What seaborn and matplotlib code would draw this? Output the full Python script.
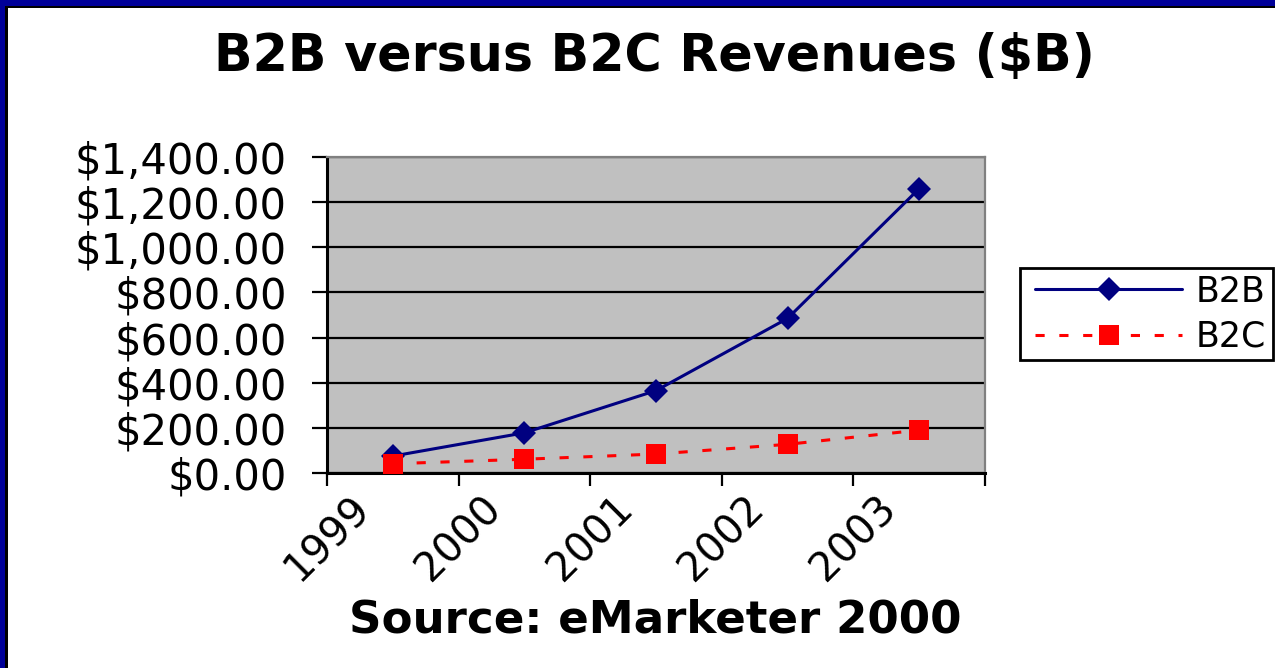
import matplotlib
matplotlib.use('Agg')
import matplotlib.pyplot as plt
from matplotlib.patches import Rectangle
from matplotlib.lines import Line2D
from matplotlib.legend_handler import HandlerLine2D
from matplotlib.ticker import FuncFormatter, FixedLocator
from matplotlib.transforms import ScaledTranslation
import numpy as np
import pandas as pd
import seaborn as sns

# data (billions of dollars)
years = ['1999', '2000', '2001', '2002', '2003']
b2b = [75, 178, 365, 685, 1260]
b2c = [41, 61, 84, 127, 190]
y_ticks = [0, 200, 400, 600, 800, 1000, 1200, 1400]

df = pd.DataFrame({
    'pos': list(range(len(years))) * 2,
    'revenue': b2b + b2c,
    'segment': ['B2B'] * len(years) + ['B2C'] * len(years),
})

sns.set_style('white')
plt.rcParams['font.family'] = ['DejaVu Sans']
plt.rcParams['text.color'] = 'black'
plt.rcParams['xtick.color'] = 'black'
plt.rcParams['ytick.color'] = 'black'

fig = plt.figure(figsize=(12.75, 6.68), dpi=100)
fig.patch.set_facecolor('white')

# slide frame (navy band with black inner edge on top and left)
W, H = 1275.0, 668.0
fig.patches.append(Rectangle((0, 1 - 6 / H), 1, 6 / H, transform=fig.transFigure,
                             facecolor='#000099', edgecolor='none', zorder=0))
fig.patches.append(Rectangle((5 / W, 1 - 8 / H), 1, 2 / H, transform=fig.transFigure,
                             facecolor='black', edgecolor='none', zorder=0))
fig.patches.append(Rectangle((0, 0), 5 / W, 1, transform=fig.transFigure,
                             facecolor='#000099', edgecolor='none', zorder=0))
fig.patches.append(Rectangle((5 / W, 0), 3 / W, 1 - 6 / H, transform=fig.transFigure,
                             facecolor='black', edgecolor='none', zorder=0))

ax = fig.add_axes([327 / W, 1 - 473 / H, 658 / W, 316 / H])
ax.set_facecolor('#C0C0C0')

sns.lineplot(data=df, x='pos', y='revenue', hue='segment', style='segment',
             palette={'B2B': '#000080', 'B2C': '#FF0000'},
             markers={'B2B': 'D', 'B2C': 's'},
             dashes={'B2B': '', 'B2C': (3.0, 4.8)},
             linewidth=2.2, ax=ax, legend=True, zorder=3)

for line, ms in zip(ax.lines[:2], [12.5, 14.5]):
    line.set_markersize(ms)
    line.set_markeredgecolor(line.get_color())
    line.set_markeredgewidth(0)

ax.set_xlim(-0.5, len(years) - 0.5)
ax.set_ylim(0, 1400)

ax.yaxis.set_major_locator(FixedLocator(y_ticks))
ax.yaxis.set_major_formatter(FuncFormatter(lambda v, p: '${:,.2f}'.format(v)))
ax.grid(axis='y', color='black', linewidth=1.6)
ax.grid(axis='x', visible=False)
ax.set_axisbelow(True)

ax.set_xticks(range(len(years)))
ax.set_xticklabels(years, rotation=45, ha='right', va='center', rotation_mode='anchor')
ax.set_xticks(np.arange(-0.5, len(years)), minor=True)
ax.tick_params(axis='x', which='major', length=0, pad=21, labelsize=29)
ax.tick_params(axis='x', which='minor', length=9, width=1.6, direction='out',
               color='black', bottom=True)
ax.tick_params(axis='y', which='major', length=11, width=1.6, direction='out',
               color='black', left=True, pad=18, labelsize=30)

# nudge the slanted year labels left, as in the original
shift = ScaledTranslation(-29 / 100, 0, fig.dpi_scale_trans)
for lab in ax.get_xticklabels():
    lab.set_transform(lab.get_transform() + shift)

for side in ['left', 'bottom']:
    ax.spines[side].set_color('black')
    ax.spines[side].set_linewidth(2.2)
for side in ['top', 'right']:
    ax.spines[side].set_color('#808080')
    ax.spines[side].set_linewidth(1.6)

ax.set_xlabel('')
ax.set_ylabel('')

handles, labels = ax.get_legend_handles_labels()
leg = ax.legend(handles, labels, loc='upper left', bbox_to_anchor=(1020 / W, 1 - 268 / H),
                bbox_transform=fig.transFigure, borderaxespad=0, fontsize=25,
                frameon=True, fancybox=False, edgecolor='black', framealpha=1,
                handlelength=4.48, handletextpad=0.4, labelspacing=0.32,
                borderpad=0.19, handler_map={Line2D: HandlerLine2D(xpad=0.24)})
leg.get_frame().set_linewidth(2)
for h, ms in zip(leg.legend_handles, [12.5, 14.5]):
    h.set_markersize(ms)
    h.set_markeredgewidth(0)

fig.text(654 / W, 1 - 57 / H, 'B2B versus B2C Revenues ($B)', ha='center', va='center',
         fontsize=36.5, fontweight='bold', color='black')
fig.text(655 / W, 1 - 620 / H, 'Source: eMarketer 2000', ha='center', va='center',
         fontsize=32.5, fontweight='bold', color='black')

fig.savefig('out.png', dpi=100)
